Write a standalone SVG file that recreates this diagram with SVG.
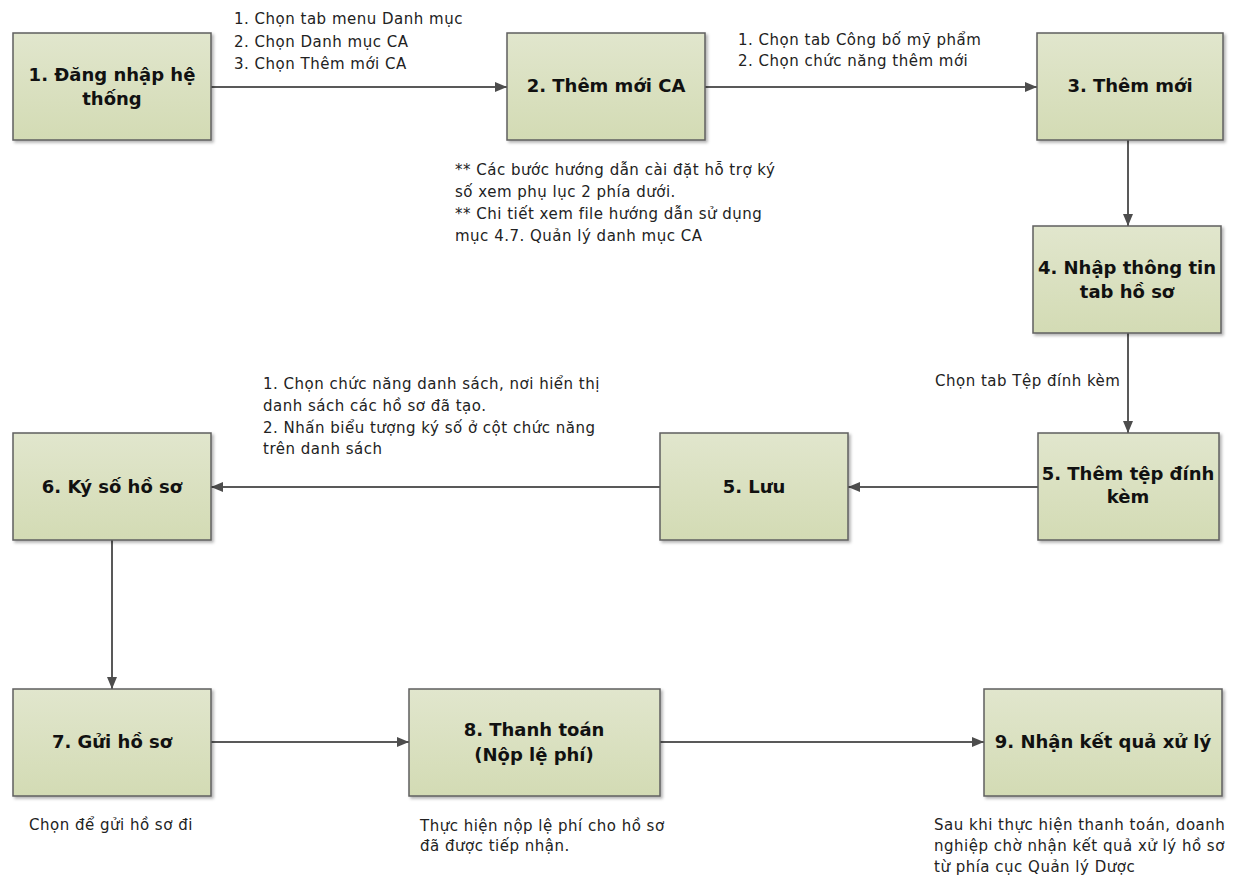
<svg xmlns="http://www.w3.org/2000/svg" width="1236" height="878" viewBox="0 0 1236 878">
<defs>
<linearGradient id="g" x1="0" y1="0" x2="0" y2="1">
<stop offset="0" stop-color="#e1e6cd"/>
<stop offset="1" stop-color="#d3dbb4"/>
</linearGradient>
<filter id="sh" x="-5%" y="-5%" width="115%" height="120%">
<feDropShadow dx="2" dy="2" stdDeviation="1.5" flood-color="#000" flood-opacity="0.3"/>
</filter>
<marker id="ah" markerWidth="12" markerHeight="10" refX="12" refY="5" orient="auto" markerUnits="userSpaceOnUse">
<path d="M0,0 L12,5 L0,10 Z" fill="#4d4d4d"/>
</marker>
</defs>
<style>
.box{fill:url(#g);stroke:#5f5f5f;stroke-width:1.5;filter:url(#sh)}
.t{font-family:"DejaVu Sans",sans-serif;font-weight:bold;font-size:18px;fill:#111;text-anchor:middle}
.l{font-family:"DejaVu Sans",sans-serif;font-size:15px;letter-spacing:0.5px;fill:#222}
.c{fill:none;stroke:#595959;stroke-width:2;marker-end:url(#ah)}
</style>
<rect width="1236" height="878" fill="#fff"/>
<g id="connectors">
<path class="c" d="M211,87 H507"/>
<path class="c" d="M705,87 H1037"/>
<path class="c" d="M1128,140 V226"/>
<path class="c" d="M1128,333 V433"/>
<path class="c" d="M1038,487 H848"/>
<path class="c" d="M660,487 H211"/>
<path class="c" d="M112,540 V689"/>
<path class="c" d="M211,742 H409"/>
<path class="c" d="M660,742 H984"/>
</g>
<g id="node1"><rect class="box" x="13" y="33" width="198" height="107"/><text class="t" x="112" y="81">1. Đăng nhập hệ</text><text class="t" x="112" y="105">thống</text></g>
<g id="node2"><rect class="box" x="507" y="33" width="198" height="107"/><text class="t" x="606" y="92">2. Thêm mới CA</text></g>
<g id="node3"><rect class="box" x="1037" y="33" width="186" height="107"/><text class="t" x="1130" y="92">3. Thêm mới</text></g>
<g id="node4"><rect class="box" x="1033" y="226" width="188" height="107"/><text class="t" x="1127" y="274">4. Nhập thông tin</text><text class="t" x="1127" y="298">tab hồ sơ</text></g>
<g id="node5"><rect class="box" x="1038" y="433" width="181" height="107"/><text class="t" x="1128" y="480">5. Thêm tệp đính</text><text class="t" x="1128" y="503">kèm</text></g>
<g id="node5b"><rect class="box" x="660" y="433" width="188" height="107"/><text class="t" x="754" y="493">5. Lưu</text></g>
<g id="node6"><rect class="box" x="13" y="433" width="198" height="107"/><text class="t" x="112" y="493">6. Ký số hồ sơ</text></g>
<g id="node7"><rect class="box" x="13" y="689" width="198" height="107"/><text class="t" x="112" y="748">7. Gửi hồ sơ</text></g>
<g id="node8"><rect class="box" x="409" y="689" width="251" height="107"/><text class="t" x="534" y="736">8. Thanh toán</text><text class="t" x="534" y="761">(Nộp lệ phí)</text></g>
<g id="node9"><rect class="box" x="984" y="689" width="238" height="107"/><text class="t" x="1103" y="748">9. Nhận kết quả xử lý</text></g>
<g id="labels">
<text class="l" x="234" y="24">1. Chọn tab menu Danh mục</text>
<text class="l" x="234" y="47">2. Chọn Danh mục CA</text>
<text class="l" x="234" y="69">3. Chọn Thêm mới CA</text>
<text class="l" x="738" y="45">1. Chọn tab Công bố mỹ phẩm</text>
<text class="l" x="738" y="66">2. Chọn chức năng thêm mới</text>
<text class="l" x="455" y="175">** Các bước hướng dẫn cài đặt hỗ trợ ký</text>
<text class="l" x="455" y="197">số xem phụ lục 2 phía dưới.</text>
<text class="l" x="455" y="219">** Chi tiết xem file hướng dẫn sử dụng</text>
<text class="l" x="455" y="241">mục 4.7. Quản lý danh mục CA</text>
<text class="l" x="935" y="386">Chọn tab Tệp đính kèm</text>
<text class="l" x="263" y="389">1. Chọn chức năng danh sách, nơi hiển thị</text>
<text class="l" x="263" y="411">danh sách các hồ sơ đã tạo.</text>
<text class="l" x="263" y="433">2. Nhấn biểu tượng ký số ở cột chức năng</text>
<text class="l" x="263" y="454">trên danh sách</text>
<text class="l" x="29" y="830">Chọn để gửi hồ sơ đi</text>
<text class="l" x="420" y="831">Thực hiện nộp lệ phí cho hồ sơ</text>
<text class="l" x="420" y="851">đã được tiếp nhận.</text>
<text class="l" x="934" y="830">Sau khi thực hiện thanh toán, doanh</text>
<text class="l" x="934" y="851">nghiệp chờ nhận kết quả xử lý hồ sơ</text>
<text class="l" x="934" y="872">từ phía cục Quản lý Dược</text>
</g>
</svg>
